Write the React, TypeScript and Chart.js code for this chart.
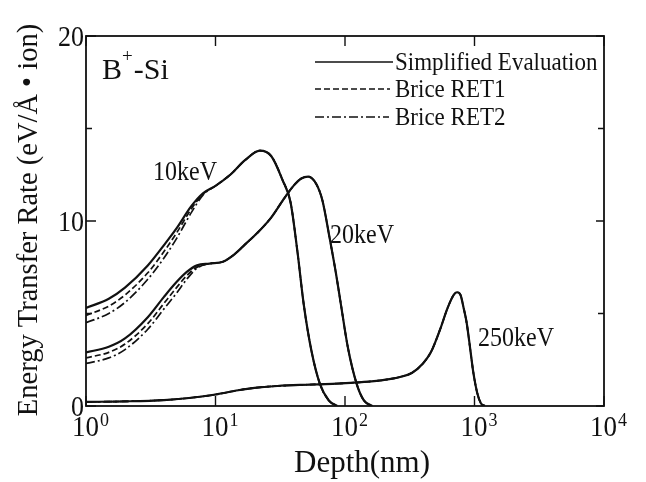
import React, { useEffect, useRef } from "react";
import { Chart, registerables } from "chart.js";

Chart.register(...registerables);

// ---------- data ----------
const depth10 = [1, 1.5, 2, 3, 4, 5, 6.5, 8, 10, 13, 17, 22, 27, 33, 38, 43, 48, 55, 64, 75, 87];
const simplified10 = [5.3, 5.8, 6.4, 7.6, 8.7, 9.6, 10.8, 11.5, 11.9, 12.5, 13.3, 13.8, 13.5, 12.2, 11.0, 8.3, 5.5, 3.0, 1.2, 0.3, 0];
const brice1_10 = [4.9, 5.4, 6.0, 7.2, 8.35, 9.35, 10.65, 11.45, 11.9, 12.5, 13.3, 13.8, 13.5, 12.2, 11.0, 8.3, 5.5, 3.0, 1.2, 0.3, 0];
const brice2_10 = [4.5, 5.0, 5.6, 6.85, 8.0, 9.05, 10.45, 11.4, 11.9, 12.5, 13.3, 13.8, 13.5, 12.2, 11.0, 8.3, 5.5, 3.0, 1.2, 0.3, 0];

const depth20 = [1, 1.5, 2, 3, 4, 5, 6, 7.2, 9, 11.4, 14, 17, 21, 27, 33, 40, 46, 52, 60, 67, 76, 85, 92, 105, 123, 140, 162];
const simplified20 = [2.9, 3.2, 3.65, 4.8, 5.9, 6.7, 7.25, 7.6, 7.7, 7.8, 8.2, 8.75, 9.35, 10.2, 11.1, 11.9, 12.3, 12.4, 12.0, 11.1, 9.1, 7.2, 5.7, 3.2, 1.2, 0.3, 0];
const brice1_20 = [2.6, 2.9, 3.35, 4.45, 5.55, 6.4, 7.05, 7.5, 7.7, 7.8, 8.2, 8.75, 9.35, 10.2, 11.1, 11.9, 12.3, 12.4, 12.0, 11.1, 9.1, 7.2, 5.7, 3.2, 1.2, 0.3, 0];
const brice2_20 = [2.3, 2.6, 3.05, 4.15, 5.25, 6.1, 6.85, 7.45, 7.7, 7.8, 8.2, 8.75, 9.35, 10.2, 11.1, 11.9, 12.3, 12.4, 12.0, 11.1, 9.1, 7.2, 5.7, 3.2, 1.2, 0.3, 0];

const depth250 = [1, 2, 4, 6, 10, 15, 20, 30, 50, 80, 110, 160, 220, 270, 330, 400, 460, 540, 620, 690, 733, 780, 830, 870, 930, 980, 1050, 1120, 1200];
const simplified250 = [0.22, 0.25, 0.32, 0.42, 0.62, 0.85, 0.98, 1.08, 1.15, 1.2, 1.25, 1.33, 1.45, 1.58, 1.8, 2.3, 2.9, 4.1, 5.3, 6.0, 6.15, 6.0, 5.2, 4.5, 3.0, 1.8, 0.7, 0.15, 0];
const brice1_250 = simplified250.slice();
const brice2_250 = simplified250.slice();

const xTickExponents = [0, 1, 2, 3, 4];
const yTickLabels = [0, 10, 20];
const yMinorTicks = [5, 15];
const energyLabels = ["10keV", "20keV", "250keV"];
const legendLabels = ["Simplified Evaluation", "Brice RET1", "Brice RET2"];

const FONT = '"Liberation Serif", "Times New Roman", serif';
const DASHED = [6, 3];
const DASHDOT = [9, 3, 2, 3];

const pts = (xs: number[], ys: number[]) => xs.map((x, i) => ({ x, y: ys[i] }));

function txt(ctx: CanvasRenderingContext2D, s: string, x: number, y: number, size: number, align: CanvasTextAlign = "left", sy = 1) {
  ctx.save();
  ctx.font = `${size}px ${FONT}`;
  ctx.textAlign = align;
  ctx.textBaseline = "alphabetic";
  ctx.fillStyle = "#111";
  ctx.translate(x, y);
  ctx.scale(1, sy);
  ctx.fillText(s, 0, 0);
  ctx.restore();
}

function width(ctx: CanvasRenderingContext2D, s: string, size: number) {
  ctx.save();
  ctx.font = `${size}px ${FONT}`;
  const w = ctx.measureText(s).width;
  ctx.restore();
  return w;
}

const decor = {
  id: "decor",
  afterDraw(chart: any) {
    const { ctx, chartArea: a, scales } = chart;
    const xs = scales.x;
    const ys = scales.y;
    ctx.save();
    ctx.strokeStyle = "#111";
    ctx.lineWidth = 1.8;
    ctx.setLineDash([]);
    ctx.strokeRect(a.left, a.top, a.right - a.left, a.bottom - a.top);

    // x ticks (inward, top & bottom)
    ctx.lineWidth = 1.4;
    for (const e of xTickExponents) {
      const px = xs.getPixelForValue(Math.pow(10, e));
      ctx.beginPath();
      ctx.moveTo(px, a.bottom);
      ctx.lineTo(px, a.bottom - 10);
      ctx.moveTo(px, a.top);
      ctx.lineTo(px, a.top + 10);
      ctx.stroke();
    }
    // y ticks
    for (const v of yTickLabels) {
      const py = ys.getPixelForValue(v);
      ctx.beginPath();
      ctx.moveTo(a.left, py);
      ctx.lineTo(a.left + 10, py);
      ctx.moveTo(a.right, py);
      ctx.lineTo(a.right - 8, py);
      ctx.stroke();
    }
    for (const v of yMinorTicks) {
      const py = ys.getPixelForValue(v);
      ctx.beginPath();
      ctx.moveTo(a.left, py);
      ctx.lineTo(a.left + 6, py);
      ctx.moveTo(a.right, py);
      ctx.lineTo(a.right - 6, py);
      ctx.stroke();
    }

    // y tick labels
    for (const v of yTickLabels) {
      const py = ys.getPixelForValue(v);
      txt(ctx, String(v), a.left - 2, py + 10, 26, "right", 1.15);
    }
    // x tick labels 10^n
    for (const e of xTickExponents) {
      const px = xs.getPixelForValue(Math.pow(10, e));
      const w10 = width(ctx, "10", 27);
      const left = px - 14;
      txt(ctx, "10", left, a.bottom + 30, 27, "left", 1.12);
      txt(ctx, String(e), left + w10 + 1, a.bottom + 20, 18, "left", 1.1);
    }

    // axis titles
    txt(ctx, "Depth(nm)", 362, 472, 31, "center");
    ctx.save();
    ctx.translate(37, 220);
    ctx.rotate(-Math.PI / 2);
    txt(ctx, "Energy Transfer Rate (eV/Å • ion)", 0, 0, 28.5, "center");
    ctx.restore();

    // B+-Si
    const wB = width(ctx, "B", 30);
    txt(ctx, "B", 102, 79, 30);
    txt(ctx, "+", 102 + wB, 62, 19);
    txt(ctx, "-Si", 102 + wB + width(ctx, "+", 19) + 1, 79, 30);

    // energy labels
    txt(ctx, energyLabels[0], 153, 180, 24, "left", 1.1);
    txt(ctx, energyLabels[1], 330, 243, 24, "left", 1.1);
    txt(ctx, energyLabels[2], 478, 346, 24, "left", 1.1);

    // legend
    const rows = [62, 89, 117];
    const dashes = [[], DASHED, DASHDOT];
    const ends = [393, 390, 389];
    ctx.lineWidth = 1.6;
    rows.forEach((ry, i) => {
      ctx.setLineDash(dashes[i]);
      ctx.beginPath();
      ctx.moveTo(315, ry);
      ctx.lineTo(ends[i], ry);
      ctx.stroke();
      ctx.setLineDash([]);
      txt(ctx, legendLabels[i], 395, ry + 8, 23, "left", 1.05);
    });
    ctx.restore();
  },
};

function ds(label: string, xs: number[], ys: number[], dash: number[], w: number) {
  return {
    label,
    data: pts(xs, ys),
    borderColor: "#111",
    borderWidth: w,
    borderDash: dash,
    pointRadius: 0,
    fill: false,
    cubicInterpolationMode: "monotone" as const,
  };
}

export default function App() {
  const ref = useRef<HTMLCanvasElement>(null);
  useEffect(() => {
    document.body.style.margin = "0";
    const chart = new Chart(ref.current!, {
      type: "line",
      data: {
        datasets: [
          ds("Brice RET2 10keV", depth10, brice2_10, DASHDOT, 1.7),
          ds("Brice RET1 10keV", depth10, brice1_10, DASHED, 1.7),
          ds("Brice RET2 20keV", depth20, brice2_20, DASHDOT, 1.7),
          ds("Brice RET1 20keV", depth20, brice1_20, DASHED, 1.7),
          ds("Brice RET2 250keV", depth250, brice2_250, DASHDOT, 1.7),
          ds("Brice RET1 250keV", depth250, brice1_250, DASHED, 1.7),
          ds("Simplified 10keV", depth10, simplified10, [], 2.2),
          ds("Simplified 20keV", depth20, simplified20, [], 2.2),
          ds("Simplified 250keV", depth250, simplified250, [], 2.2),
        ],
      },
      options: {
        animation: false,
        responsive: false,
        layout: { padding: { left: 86, right: 42, top: 36, bottom: 76 } },
        scales: {
          x: { type: "logarithmic", min: 1, max: 10000, display: false },
          y: { type: "linear", min: 0, max: 20, display: false },
        },
        plugins: { legend: { display: false }, tooltip: { enabled: false } },
      },
      plugins: [decor],
    });
    return () => chart.destroy();
  }, []);
  return (
    <div style={{ position: "fixed", left: 0, top: 0, width: 646, height: 482, background: "#fff" }}>
      <canvas ref={ref} width={646} height={482} />
    </div>
  );
}
